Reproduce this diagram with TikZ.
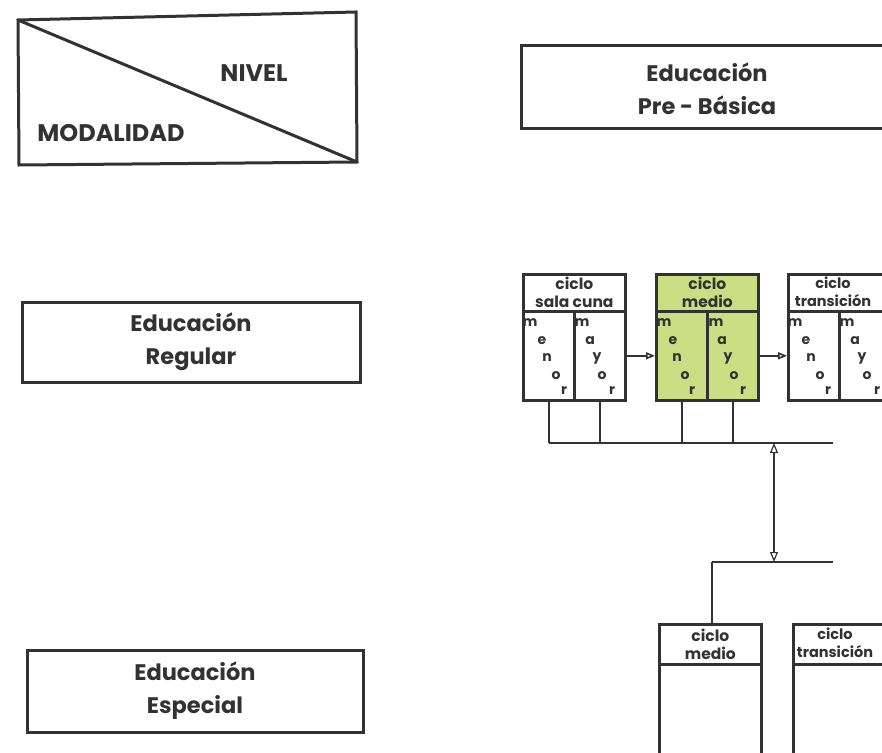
\documentclass[tikz,border=0pt]{standalone}
\usepackage{fontspec}
\setmainfont{Poppins}
\usetikzlibrary{arrows.meta}
\definecolor{ink}{RGB}{50,50,50}
\definecolor{cyclegreen}{RGB}{203,222,132}
\tikzset{
  box/.style={draw=ink, line width=3pt, inner sep=0pt, text=ink, align=center},
  cbox/.style={draw=ink, line width=2.6pt, inner sep=0pt, text=ink, align=center,
    font=\fontsize{15.5}{18}\selectfont\bfseries},
  htext/.style={text=ink, inner sep=0pt, align=center, font=\fontsize{14.5}{18}\selectfont\bfseries},
  link/.style={draw=ink, line width=1.6pt},
  tip/.style={-{Triangle[open,length=9pt,width=7pt]}},
  letter/.style={text=ink, inner sep=0pt, font=\fontsize{14}{14}\selectfont\bfseries},
  big/.style={font=\fontsize{22.5}{33}\selectfont\bfseries},
  caps/.style={text=ink, font=\fontsize{24}{24}\selectfont\bfseries},
}
% staircase of letters inside a column (node, left x, letters with offsets)
\newcommand\stairletters[3]{%
  \foreach \ch/\px/\py [count=\i] in {#3}
    \node[letter] (#1-\i) at (#2+\px,310+\py) {\ch};%
}
\begin{document}
\begin{tikzpicture}[x=1pt, y=-1pt]
  \useasboundingbox (0,0) rectangle (882,752);
  \clip (0,0) rectangle (882,752);

  % Drawing legend box
  \coordinate (legendnw) at (18,20);%
  \coordinate (legendne) at (356,12);%
  \coordinate (legendse) at (357,162);%
  \coordinate (legendsw) at (19,165);%
  \draw[box, line join=miter] (legendnw) -- (legendne) -- (legendse) -- (legendsw) -- cycle;%
  \draw[box] (legendnw) -- (legendse);%
  \node[caps] (nivel) at (254,73) {NIVEL};%
  \node[caps] (modalidad) at (111,133) {MODALIDAD};%

  % Drawing level box
  \node[box, minimum width=373, minimum height=83] (prebasica) at (708,87) {};%
  \node[text=ink, big, align=center] (prebasicatext) at (707,89) {Educación\\Pre - Básica};%

  % Drawing modality boxes
  \node[box, big, minimum width=338, minimum height=80] (regular) at (191,342) {Educación\\Regular};%
  \node[box, big, minimum width=336, minimum height=82] (especial) at (195,691) {Educación\\Especial};%

  % Drawing cycle sala cuna
  \node[cbox, minimum width=102, minimum height=37, anchor=north west] (cunahead) at (522,273) {ciclo\\sala cuna};%
  \node[cbox, minimum width=51, minimum height=89, anchor=north west] (cunamen) at (522,310) {};%
  \node[cbox, minimum width=51, minimum height=89, anchor=north west] (cunamay) at (573,310) {};%

  % Drawing cycle medio
  \node[cbox, fill=cyclegreen, minimum width=102, minimum height=37, anchor=north west] (mediohead) at (655,273) {ciclo\\medio};%
  \node[cbox, fill=cyclegreen, minimum width=51, minimum height=89, anchor=north west] (mediomen) at (655,310) {};%
  \node[cbox, fill=cyclegreen, minimum width=51, minimum height=89, anchor=north west] (mediomay) at (706,310) {};%

  % Drawing cycle transicion
  \node[cbox, minimum width=102, minimum height=37, anchor=north west] (transhead) at (787,273) {};%
  \node[htext] (transheadtext) at (833,292) {ciclo\\transición};%
  \node[cbox, minimum width=51, minimum height=89, anchor=north west] (transmen) at (787,310) {};%
  \node[cbox, minimum width=51, minimum height=89, anchor=north west] (transmay) at (838,310) {};%

  % Marking menor / mayor letters
  \stairletters{cunamen}{522}{m/8/13, e/20/31, n/25/48, o/34/66, r/42/81}
  \stairletters{cunamay}{573}{m/9/13, a/17/31, y/24/48, o/29/66, r/39/81}
  \stairletters{mediomen}{655}{m/9/13, e/18/31, n/22/48, o/30/66, r/37/81}
  \stairletters{mediomay}{706}{m/10/13, a/16/31, y/22/48, o/28/66, r/37/81}
  \stairletters{transmen}{787}{m/8/13, e/19/31, n/24/48, o/33/66, r/41/81}
  \stairletters{transmay}{838}{m/9/13, a/17/31, y/24/48, o/29/66, r/39/81}

  % Drawing arrows between cycles
  \draw[link, tip] (cunamay.east) -- (mediomen.west);%
  \draw[link, tip] (mediomay.east) -- (transmen.west);%

  % Drawing upper bus
  \coordinate (busAleft) at (cunamen.south |- 0,443);%
  \coordinate (busAright) at (833,443);%
  \coordinate (busAmid) at (774,443);%
  \draw[link] (busAleft) -- (busAright);%
  \draw[link] (cunamen.south) -- (busAleft);%
  \draw[link] (cunamay.south) -- (cunamay.south |- busAleft);%
  \draw[link] (mediomen.south) -- (mediomen.south |- busAleft);%
  \draw[link] (mediomay.south) -- (mediomay.south |- busAleft);%

  % Drawing bottom cycles
  \node[cbox, minimum width=102, minimum height=40, anchor=north west] (espmediohead) at (658,623) {ciclo\\medio};%
  \node[cbox, minimum width=102, minimum height=130, anchor=north west] (espmedio) at (658,663) {};%
  \node[cbox, minimum width=102, minimum height=40, anchor=north west] (esptranshead) at (792,623) {};%
  \node[htext] (esptransheadtext) at (835,643) {ciclo\\transición};%
  \node[cbox, minimum width=102, minimum height=130, anchor=north west] (esptrans) at (792,663) {};%

  % Drawing lower bus
  \coordinate (busBleft) at (712,562);%
  \coordinate (busBright) at (833,562);%
  \coordinate (busBmid) at (774,562);%
  \draw[link] (busBleft) -- (busBright);%
  \draw[link] (busBleft) -- (busBleft |- espmediohead.north);%

  % Drawing link between buses
  \draw[link, line width=1.2pt, {Triangle[open,length=10pt,width=8pt]}-{Triangle[open,length=10pt,width=8pt]}] (busAmid) -- (busBmid);%
\end{tikzpicture}
\end{document}
